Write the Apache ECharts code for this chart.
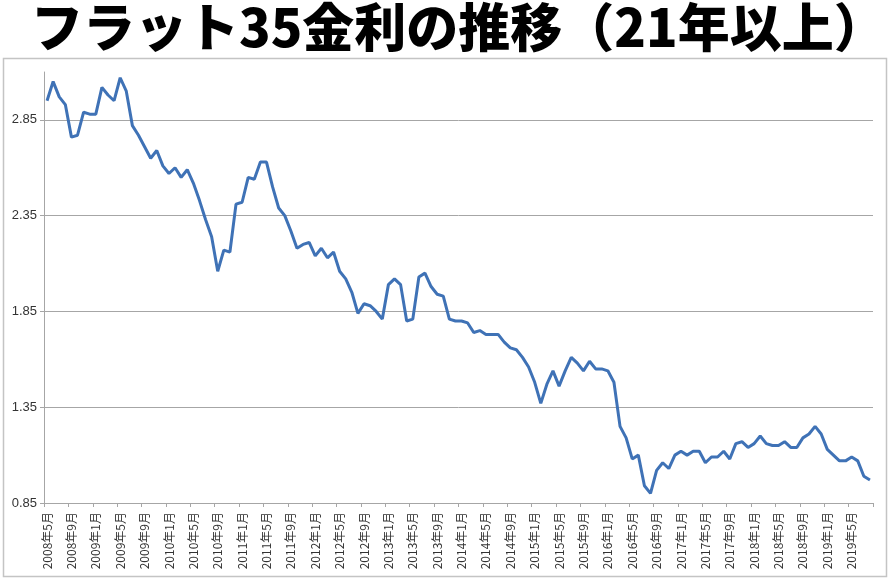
<!DOCTYPE html>
<html>
<head>
<meta charset="utf-8">
<script src="https://cdn.jsdelivr.net/npm/echarts@6/dist/echarts.min.js"></script>
<style>
html,body{margin:0;padding:0;background:#fff;}
#chart{width:890px;height:582px;}
</style>
</head>
<body>
<div id="chart"></div>
<script>
// Months: 2008年5月 .. 2019年8月 (monthly)
const startYear = 2008, startMonth = 5;
const rates = [
  2.95, 3.05, 2.97, 2.93, 2.76, 2.77, 2.89, 2.88, 2.88, 3.02,
  2.98, 2.95, 3.07, 3.00, 2.82, 2.77, 2.71, 2.65, 2.69, 2.61,
  2.57, 2.60, 2.55, 2.59, 2.52, 2.43, 2.33, 2.24, 2.06, 2.17,
  2.16, 2.41, 2.42, 2.55, 2.54, 2.63, 2.63, 2.50, 2.39, 2.35,
  2.27, 2.18, 2.20, 2.21, 2.14, 2.18, 2.13, 2.16, 2.06, 2.02,
  1.95, 1.84, 1.89, 1.88, 1.85, 1.81, 1.99, 2.02, 1.99, 1.80,
  1.81, 2.03, 2.05, 1.98, 1.94, 1.93, 1.81, 1.80, 1.80, 1.79,
  1.74, 1.75, 1.73, 1.73, 1.73, 1.69, 1.66, 1.65, 1.61, 1.56,
  1.48, 1.37, 1.47, 1.54, 1.46, 1.54, 1.61, 1.58, 1.54, 1.59,
  1.55, 1.55, 1.54, 1.48, 1.25, 1.19, 1.08, 1.10, 0.94, 0.90,
  1.02, 1.06, 1.03, 1.10, 1.12, 1.10, 1.12, 1.12, 1.06, 1.09,
  1.09, 1.12, 1.08, 1.16, 1.17, 1.14, 1.16, 1.20, 1.16, 1.15,
  1.15, 1.17, 1.14, 1.14, 1.19, 1.21, 1.25, 1.21, 1.13, 1.10,
  1.07, 1.07, 1.09, 1.07, 0.99, 0.97
];
const months = [];
for (let i = 0; i < rates.length; i++) {
  const m0 = startMonth - 1 + i;
  months.push((startYear + Math.floor(m0 / 12)) + '年' + (m0 % 12 + 1) + '月');
}
const yTicks = [0.85, 1.35, 1.85, 2.35, 2.85];
const yMin = 0.85, yMax = 3.1, yStep = 0.5;
const titleText = 'フラット35金利の推移（21年以上）';

const chart = echarts.init(document.getElementById('chart'), null, {renderer: 'canvas'});
chart.setOption({
  animation: false,
  backgroundColor: '#ffffff',
  title: {
    text: titleText,
    left: 31,
    top: 1,
    padding: 0,
    textStyle: {
      fontFamily: '"Noto Sans CJK JP", sans-serif',
      fontWeight: 900,
      fontSize: 52,
      color: '#000000'
    }
  },
  graphic: [{
    type: 'rect',
    silent: true,
    z: -1,
    shape: {x: 3.5, y: 58.5, width: 883, height: 518},
    style: {fill: 'none', stroke: '#c4c4c4', lineWidth: 1.5}
  }],
  grid: {left: 44, right: 17, top: 72, bottom: 79, containLabel: false},
  xAxis: {
    type: 'category',
    data: months,
    boundaryGap: true,
    axisLine: {lineStyle: {color: '#a6a6a6', width: 1}},
    axisTick: {show: true, interval: 3, length: 4, lineStyle: {color: '#a6a6a6'}},
    axisLabel: {
      interval: 3,
      rotate: 90,
      margin: 9,
      fontSize: 12,
      color: '#333333',
      fontFamily: '"Noto Sans CJK JP", sans-serif'
    },
    splitLine: {show: false}
  },
  yAxis: {
    type: 'value',
    min: yMin,
    max: yMax,
    interval: yStep,
    axisLine: {show: true, lineStyle: {color: '#a6a6a6', width: 1}},
    axisTick: {show: true, length: 4, lineStyle: {color: '#a6a6a6'}},
    axisLabel: {
      fontSize: 13,
      color: '#333333',
      margin: 7,
      showMaxLabel: false,
      fontFamily: '"Liberation Sans", Arial, sans-serif',
      formatter: function (v) {
        const hit = yTicks.find(t => Math.abs(t - v) < 1e-6);
        return hit !== undefined ? hit.toFixed(2) : '';
      }
    },
    splitLine: {show: true, showMaxLine: false, showMinLine: false, lineStyle: {color: '#a6a6a6', width: 1}}
  },
  series: [{
    type: 'line',
    data: rates,
    symbol: 'none',
    smooth: false,
    lineStyle: {color: '#3f72b6', width: 3},
    itemStyle: {color: '#3f72b6'}
  }]
});
</script>
</body>
</html>
